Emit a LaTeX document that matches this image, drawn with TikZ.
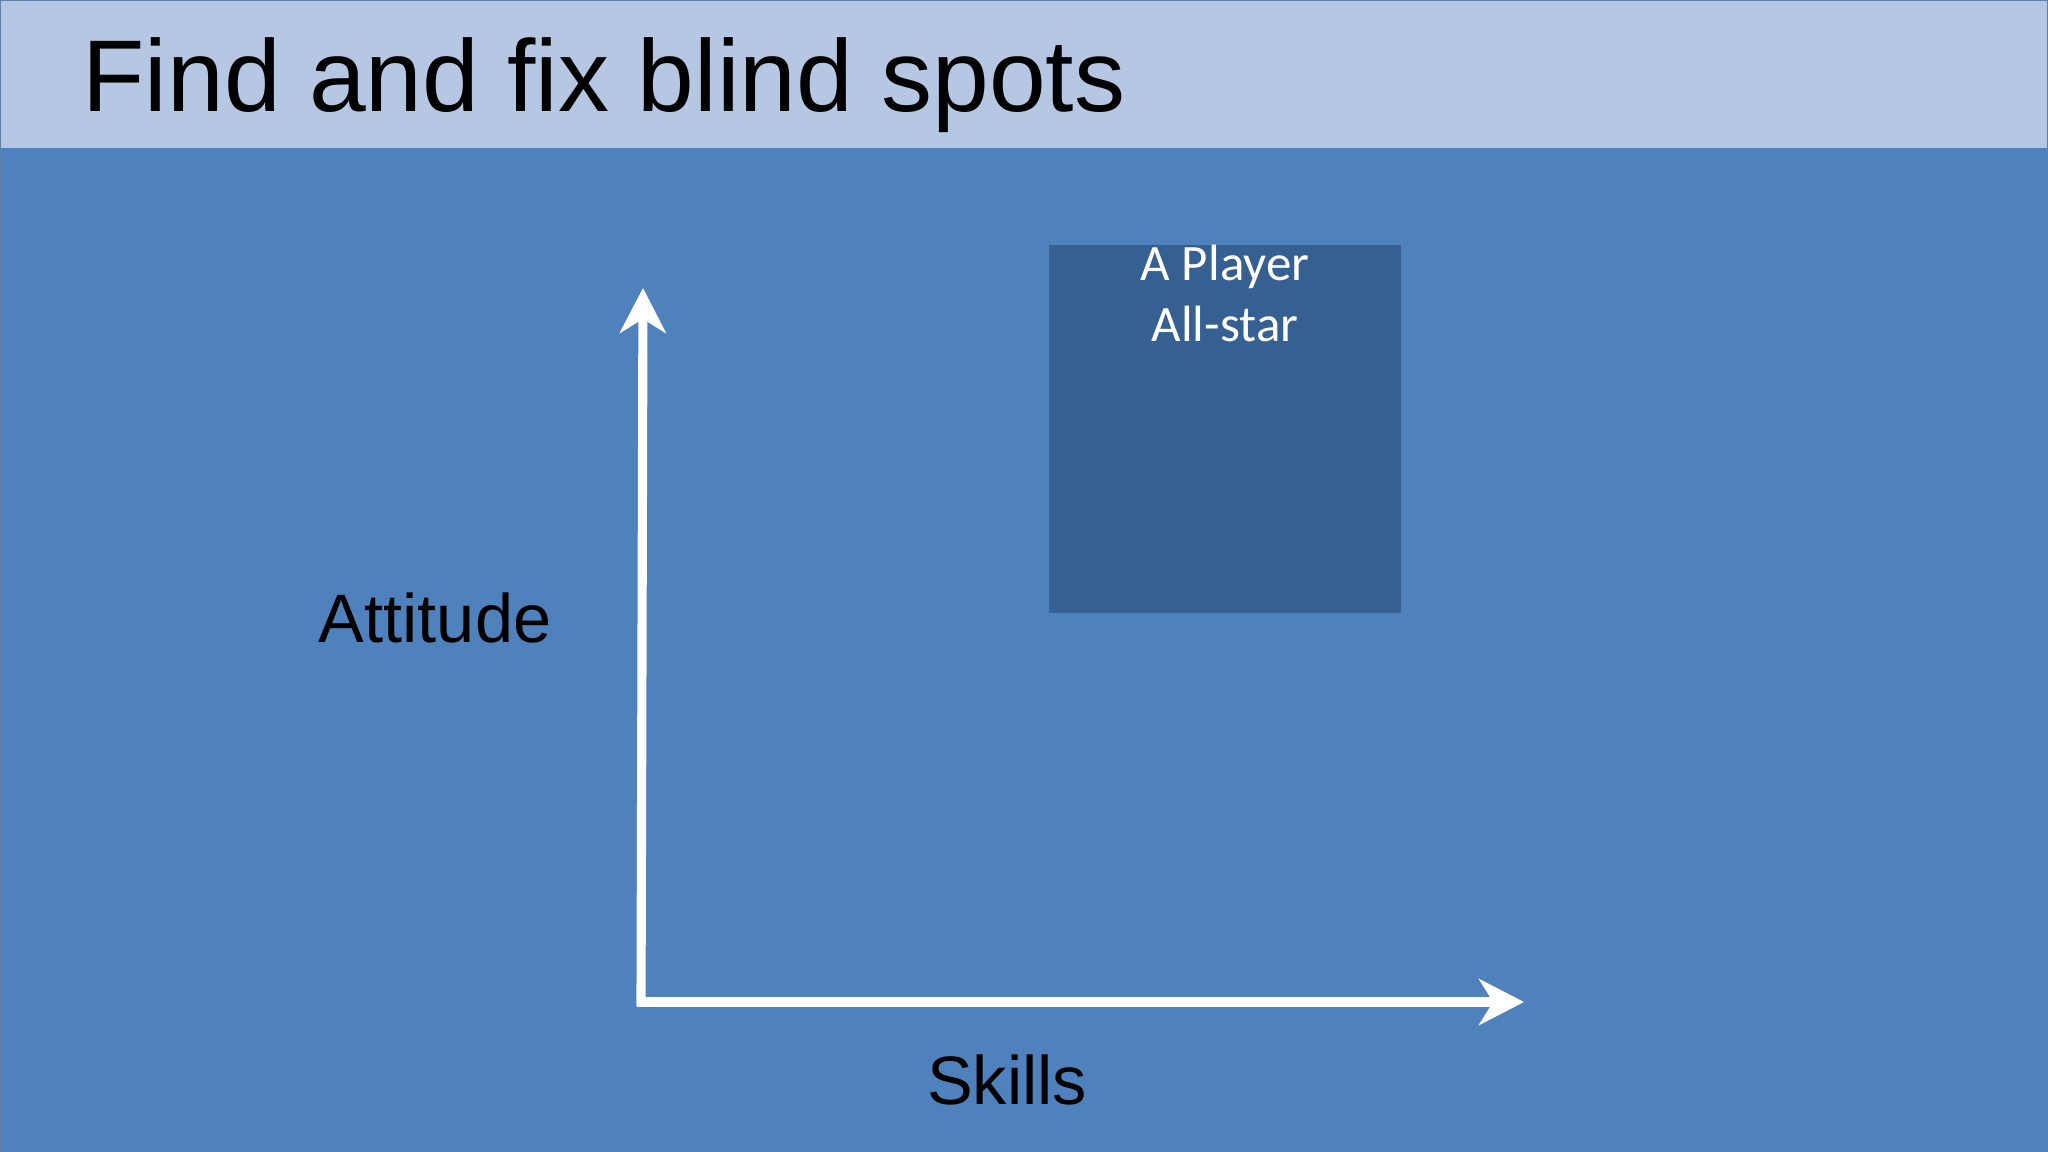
\documentclass[tikz,border=0pt]{standalone}
\usepackage{fontspec}
\setmainfont{Liberation Sans}
\newfontfamily\boxfont{Carlito}
\usetikzlibrary{arrows.meta}
\definecolor{bg}{HTML}{4F81BD}
\definecolor{titlebg}{HTML}{B5C7E3}
\definecolor{boxc}{HTML}{376092}
\tikzset{axis/.style={white,line width=2.6pt,-{Stealth[length=12.8pt,width=13.1pt,inset=4pt]}},
lbl/.style={font=\fontsize{19.5}{22}\selectfont,text=black}}
\begin{document}
\begin{tikzpicture}[x=0.01cm,y=-0.01cm]
\useasboundingbox (0,0) rectangle (2048,1152);
\fill[bg] (0,0) rectangle (2048,1152);
\fill[titlebg] (0,0) rectangle (2048,148);
\draw[boxc!80,line width=0.6pt] (0,0) rectangle (2048,1152);
\node[anchor=west,font=\fontsize{29}{32}\selectfont,text=black] (title) at (70,85) {Find and fix blind spots};
\node[fill=boxc,minimum width=3.52cm,minimum height=3.52cm,inner sep=0pt,text=white,align=center,font=\boxfont\fontsize{14.5}{17.3}\selectfont] (box) at (1225,429) {A Player\\All-star\\[2.1cm]};
\coordinate (o) at (641,1002);
\coordinate (ytop) at (643,288);
\coordinate (xend) at (1524,1002);
\draw[axis] ([yshift=-0.045cm]o) -- (ytop);
\draw[axis] ([xshift=-0.045cm]o) -- (xend);
\node[lbl] (att) at (435,618) {Attitude};
\node[lbl] (sk) at (1007,1080) {Skills};
\end{tikzpicture}
\end{document}
